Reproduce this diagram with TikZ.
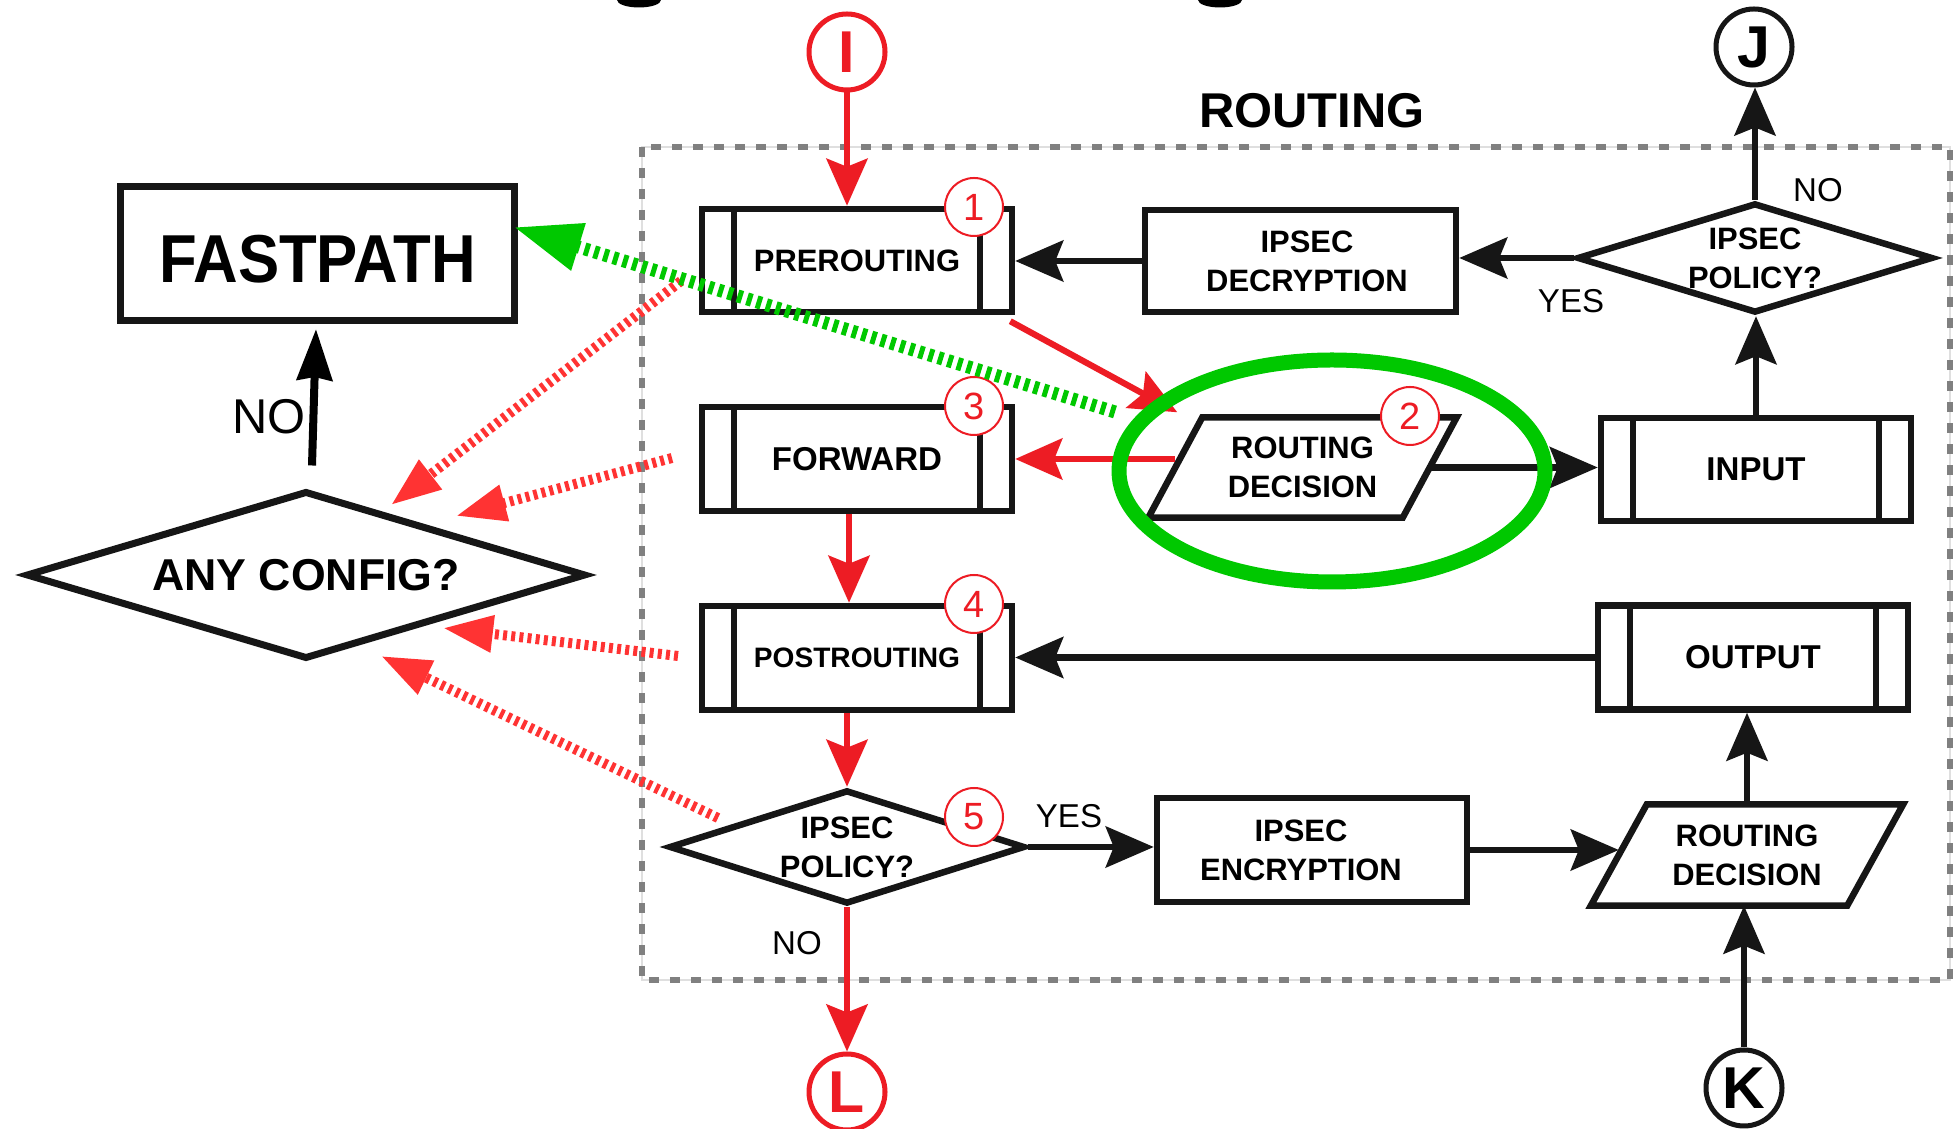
\documentclass[tikz,border=0pt]{standalone}
\usepackage{fontspec}
\setmainfont{Liberation Sans}
\newfontfamily\fpfont{Liberation Sans}[FakeStretch=0.91]
\usetikzlibrary{shapes.geometric,arrows.meta}
\definecolor{arrred}{RGB}{237,28,36}
\definecolor{dotred}{RGB}{255,51,51}
\definecolor{hlgreen}{RGB}{0,200,0}
\definecolor{ink}{RGB}{22,22,22}
\definecolor{bordergray}{RGB}{128,128,128}
\newcommand\boxfont{\fontsize{8.8}{11.1}\selectfont\bfseries}
\newcommand\bigboxfont{\fontsize{9.4}{11.5}\selectfont\bfseries}
\newcommand\postfont{\fontsize{8.0}{10}\selectfont\bfseries}
\newcommand\labfont{\fontsize{9.4}{11}\selectfont}
\newcommand\leftnofont{\fontsize{13.9}{16}\selectfont}
\newcommand\anyfont{\fontsize{12.7}{15}\selectfont\bfseries}
\newcommand\titlefont{\fontsize{13.9}{16}\selectfont\bfseries}
\newcommand\fpfonts{\fpfont\fontsize{19.3}{22}\selectfont\bfseries}
\newcommand\letterfont{\fontsize{16.8}{18}\selectfont\bfseries}
\newcommand\digitfont{\fontsize{10.8}{12}\selectfont}
\tikzset{
  procbox/.style={rectangle, draw=ink, line width=0.65mm, fill=white, minimum width=31mm, minimum height=10.3mm, inner sep=0pt, align=center, font=\boxfont,
    path picture={
      \draw[ink, line width=0.65mm] ([xshift=3.2mm]path picture bounding box.north west) -- ([xshift=3.2mm]path picture bounding box.south west);
      \draw[ink, line width=0.65mm] ([xshift=-3.2mm]path picture bounding box.north east) -- ([xshift=-3.2mm]path picture bounding box.south east);
    }},
  plainbox/.style={rectangle, draw=ink, line width=0.65mm, fill=white, minimum width=31mm, minimum height=10.3mm, inner sep=0pt, align=center, font=\boxfont},
  decision/.style={diamond, aspect=3.2, draw=ink, line width=0.65mm, fill=white, inner sep=0pt, align=center, font=\boxfont},
  paratext/.style={rectangle, inner sep=0pt, minimum width=25.3mm, minimum height=9.9mm, align=center, font=\boxfont},
  paraline/.style={draw=ink, line width=0.65mm, line join=miter},
  conn/.style={draw=ink, line width=0.62mm, -{Stealth[length=4.8mm, width=4.1mm, inset=0.8mm]}},
  redconn/.style={draw=arrred, line width=0.62mm, -{Stealth[length=4.7mm, width=4.1mm, inset=0.8mm]}},
  reddot/.style={draw=dotred, line width=1.0mm, dash pattern=on 0.4mm off 0.42mm, -{Triangle[length=5mm, width=3.5mm]}},
  greendot/.style={draw=hlgreen, line width=1.3mm, dash pattern=on 0.5mm off 0.5mm, -{Triangle[length=6.8mm, width=4.6mm]}},
  numcirc/.style={circle, draw=arrred, line width=0.2mm, fill=white, minimum size=5.8mm, inner sep=0pt, text=arrred, font=\digitfont},
  endcirc/.style={circle, draw=ink, line width=0.5mm, fill=white, minimum size=7.6mm, inner sep=0pt, font=\letterfont},
  lab/.style={font=\labfont, inner sep=0pt},
}
\begin{document}
\begin{tikzpicture}[x=0.1mm, y=-0.1mm]
\useasboundingbox (0,0) rectangle (1958,1129);
\fill[white] (0,0) rectangle (1958,1129);
% cut-off glyph remains at the top edge
\fill[black] (639,0) ellipse [x radius=2.2mm, y radius=0.75mm];
\fill[black] (1220,0) ellipse [x radius=2.2mm, y radius=0.75mm];
% routing group border
\draw[gray!25, line width=0.25mm] (642,147) rectangle (1950,980);
\draw[bordergray, line width=0.65mm, dash pattern=on 1.05mm off 1.05mm] (642,147) rectangle (1950,980);
\node[font=\titlefont, inner sep=0pt] (title) at (1312,111) {ROUTING};
% boxes
\node[procbox] (PRE) at (857,260.5) {PREROUTING};
\node[procbox, font=\bigboxfont, minimum height=10.4mm] (FWD) at (857,459) {FORWARD};
\node[procbox, font=\postfont, minimum height=10.4mm] (POST) at (857,658) {POSTROUTING};
\node[procbox, font=\bigboxfont] (IN) at (1756,469.5) {INPUT};
\node[procbox, font=\bigboxfont, minimum height=10.4mm] (OUT) at (1753,657.5) {OUTPUT};
\node[plainbox, minimum width=31.1mm, minimum height=10.2mm] (DEC) at (1300.5,261) {\rule{1.3mm}{0pt}IPSEC\\\rule{1.3mm}{0pt}DECRYPTION};
\node[plainbox, minimum height=10.4mm] (ENC) at (1312,850) {IPSEC\rule{2.2mm}{0pt}\\ENCRYPTION\rule{2.2mm}{0pt}};
\node[plainbox, line width=0.7mm, minimum width=39.4mm, minimum height=13.4mm, text height=5.8mm, text depth=0mm, font=\fpfonts] (FP) at (317.5,253.5) {FASTPATH};
% decisions
\node[decision, minimum width=35.6mm, minimum height=11mm] (POLT) at (1755,258) {IPSEC\\POLICY?};
\node[decision, minimum width=35.6mm, minimum height=11.4mm] (POLB) at (847,847) {IPSEC\\POLICY?};
\node[decision, line width=0.7mm, minimum width=56mm, minimum height=16.8mm, font=\anyfont] (ANY) at (306,575) {ANY CONFIG?};
% routing decisions (parallelograms)
\node[paratext] (RDT) at (1302.5,467.5) {ROUTING\\DECISION};
\draw[paraline] ([xshift=2.7mm]RDT.north west) -- ([xshift=2.7mm]RDT.north east) -- ([xshift=-2.7mm]RDT.south east) -- ([xshift=-2.7mm]RDT.south west) -- cycle;
\node[paratext, minimum width=25.5mm, minimum height=10mm] (RDB) at (1747,855) {ROUTING\\DECISION};
\draw[paraline] ([xshift=2.8mm]RDB.north west) -- ([xshift=2.8mm]RDB.north east) -- ([xshift=-2.8mm]RDB.south east) -- ([xshift=-2.8mm]RDB.south west) -- cycle;
% end connectors
\node[endcirc, draw=arrred, text=arrred] (I) at (847,52) {I};
\node[endcirc] (J) at (1754,47) {J};
\node[endcirc] (K) at (1744,1088) {K};
\node[endcirc, draw=arrred, text=arrred] (L) at (847,1092) {L};
% connectors
\draw[redconn] (I) -- (I.south |- PRE.north);
\draw[redconn] ([xshift=-0.5mm,yshift=-0.6mm]PRE.south east) -- ([xshift=0.2mm,yshift=0.5mm]RDT.north west);
\draw[redconn] (RDT.west |- FWD.east) -- (FWD.east);
\draw[conn] (RDT.east) -- (RDT.east -| IN.west);
\draw[conn] (IN.north) -- (IN.north |- POLT.south);
\draw[conn] (POLT.north) -- (POLT.north |- J.south);
\draw[conn] (POLT.west) -- (POLT.west -| DEC.east);
\draw[conn] (DEC.west) -- (DEC.west -| PRE.east);
\draw[redconn] ([xshift=-0.8mm]FWD.south) -- ([xshift=-0.8mm]POST.north);
\draw[conn] (OUT.west) -- (OUT.west -| POST.east);
\draw[redconn] (POLB.north |- POST.south) -- (POLB.north);
\draw[redconn] (POLB.south) -- (L);
\draw[conn] (POLB.east) -- (POLB.east -| ENC.west);
\draw[conn] (ENC.east) -- (ENC.east -| RDB.west);
\draw[conn] (RDB.north) -- (RDB.north |- OUT.south);
\draw[conn] (K) -- (K.north |- RDB.south);
\draw[black, line width=0.8mm, -{Stealth[length=5.1mm, width=3.5mm, inset=0.3mm]}] ([xshift=0.6mm,yshift=2.2mm]ANY.north) -- ([xshift=-0.15mm,yshift=-0.5mm]FP.south);
% labels
\node[lab] (noj) at (1818,190) {NO};
\node[lab] (yesdec) at (1571,301) {YES};
\node[lab] (yesenc) at (1069,816) {YES};
\node[lab] (nol) at (797,943) {NO};
\node[lab, font=\leftnofont] (nofp) at (269,417) {NO};
% numbered markers
\node[numcirc] (n1) at (974,207) {1};
\node[numcirc] (n2) at (1410,416) {2};
\node[numcirc] (n3) at (974,406) {3};
\node[numcirc] (n4) at (974,604) {4};
\node[numcirc] (n5) at (974,817) {5};
% red dotted hook arrows
\coordinate (s1) at (681,281); \coordinate (t1) at (391,505);
\coordinate (s2) at (672,458); \coordinate (t2) at (456,516);
\coordinate (s3) at (678,656); \coordinate (t3) at (443,628);
\coordinate (s4) at (718,818); \coordinate (t4) at (381,656);
\draw[reddot] (s1) -- (t1);
\draw[reddot] (s2) -- (t2);
\draw[reddot] (s3) -- (t3);
\draw[reddot] (s4) -- (t4);
% highlight
\node[ellipse, draw=hlgreen, line width=1.5mm, minimum width=42.6mm, minimum height=22.2mm, inner sep=0pt] (HL) at (1332,471) {};
\coordinate (gs) at (1115,412);
\draw[greendot] (gs) -- ([xshift=-0.45mm,yshift=2.65mm]FP.east);
\end{tikzpicture}
\end{document}
